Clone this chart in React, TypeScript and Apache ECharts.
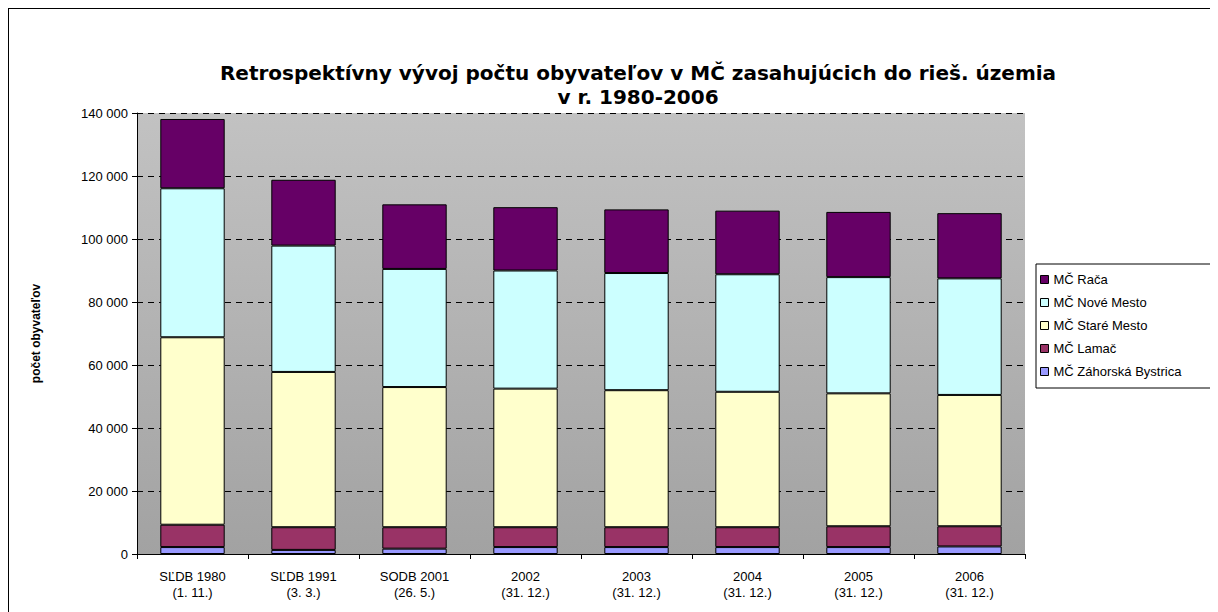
import React, { useEffect, useRef } from "react";
import * as echarts from "echarts";

const categories = [
  "SĽDB 1980\n(1. 11.)",
  "SĽDB 1991\n(3. 3.)",
  "SODB 2001\n(26. 5.)",
  "2002\n(31. 12.)",
  "2003\n(31. 12.)",
  "2004\n(31. 12.)",
  "2005\n(31. 12.)",
  "2006\n(31. 12.)",
];

const zahorska = [2200, 1300, 1700, 2200, 2200, 2200, 2200, 2400];
const lamac = [7100, 7200, 6800, 6300, 6300, 6300, 6600, 6400];
const stare = [59500, 49300, 44500, 44000, 43500, 43000, 42200, 41700];
const nove = [47300, 40100, 37500, 37500, 37200, 37300, 36900, 37000];
const raca = [22000, 20900, 20500, 20100, 20200, 20200, 20700, 20700];

const seriesNames = ["MČ Záhorská Bystrica", "MČ Lamač", "MČ Staré Mesto", "MČ Nové Mesto", "MČ Rača"];
const seriesColors = ["#9999FF", "#993366", "#FFFFCC", "#CCFFFF", "#660066"];
const seriesData = [zahorska, lamac, stare, nove, raca];

const FONT = "Arial, 'Liberation Sans', sans-serif";

export default function App() {
  const ref = useRef<HTMLDivElement>(null);
  useEffect(() => {
    if (!ref.current) return;
    const chart = echarts.init(ref.current, undefined, { renderer: "svg" });
    chart.setOption({
      animation: false,
      backgroundColor: "#ffffff",
      title: {
        text: "Retrospektívny vývoj počtu obyvateľov v MČ zasahujúcich do rieš. územia\nv r. 1980-2006",
        left: 629,
        top: 52,
        padding: 0,
        textAlign: "center",
        textStyle: {
          fontFamily: "'DejaVu Sans', sans-serif",
          fontWeight: "bold",
          fontSize: 20,
          lineHeight: 24,
          color: "#000",
        },
      },
      legend: {
        data: [...seriesNames].reverse(),
        orient: "vertical",
        left: 1027,
        top: 255,
        backgroundColor: "#fff",
        borderColor: "#000",
        borderWidth: 1,
        borderRadius: 0,
        padding: [9, 40, 10, 4],
        itemWidth: 8,
        itemHeight: 8,
        itemGap: 10,
        icon: "rect",
        itemStyle: { borderColor: "#000", borderWidth: 1 },
        textStyle: { fontFamily: FONT, fontSize: 13, color: "#000" },
      },
      grid: {
        left: 128,
        right: 193,
        top: 104,
        bottom: 58,
        show: true,
        borderWidth: 0,
        backgroundColor: {
          type: "linear",
          x: 0,
          y: 0,
          x2: 0,
          y2: 1,
          colorStops: [
            { offset: 0, color: "#c2c2c2" },
            { offset: 1, color: "#a2a2a2" },
          ],
        },
      },
      xAxis: {
        type: "category",
        data: categories,
        axisLine: { lineStyle: { color: "#000", width: 1 } },
        axisTick: { show: true, length: 5, lineStyle: { color: "#000" } },
        axisLabel: {
          fontFamily: FONT,
          fontSize: 13,
          color: "#000",
          lineHeight: 16,
          margin: 14,
          interval: 0,
        },
      },
      yAxis: {
        type: "value",
        min: 0,
        max: 140000,
        interval: 20000,
        name: "počet obyvateľov",
        nameLocation: "middle",
        nameGap: 95,
        nameTextStyle: { fontFamily: FONT, fontSize: 12, fontWeight: "bold", color: "#000" },
        axisLine: { show: true, lineStyle: { color: "#000", width: 1 } },
        axisTick: { show: true, length: 5, lineStyle: { color: "#000" } },
        axisLabel: {
          fontFamily: FONT,
          fontSize: 13,
          color: "#000",
          margin: 9,
          formatter: (v: number) => (v === 0 ? "0" : `${v / 1000} 000`),
        },
        splitLine: { show: true, lineStyle: { color: "#000", type: [6, 5], width: 1 } },
      },
      series: seriesNames.map((name, i) => ({
        name,
        type: "bar",
        stack: "total",
        data: seriesData[i],
        barWidth: "58%",
        itemStyle: { color: seriesColors[i], borderColor: "#000", borderWidth: 1 },
      })),
    });
    return () => chart.dispose();
  }, []);
  return (
    <div
      style={{
        position: "relative",
        width: 1210,
        height: 604,
        borderLeft: "1px solid #000",
        borderTop: "1px solid #000",
        overflow: "hidden",
      }}
    >
      <div ref={ref} style={{ position: "absolute", left: 0, top: 0, width: 1209, height: 603 }} />
    </div>
  );
}
